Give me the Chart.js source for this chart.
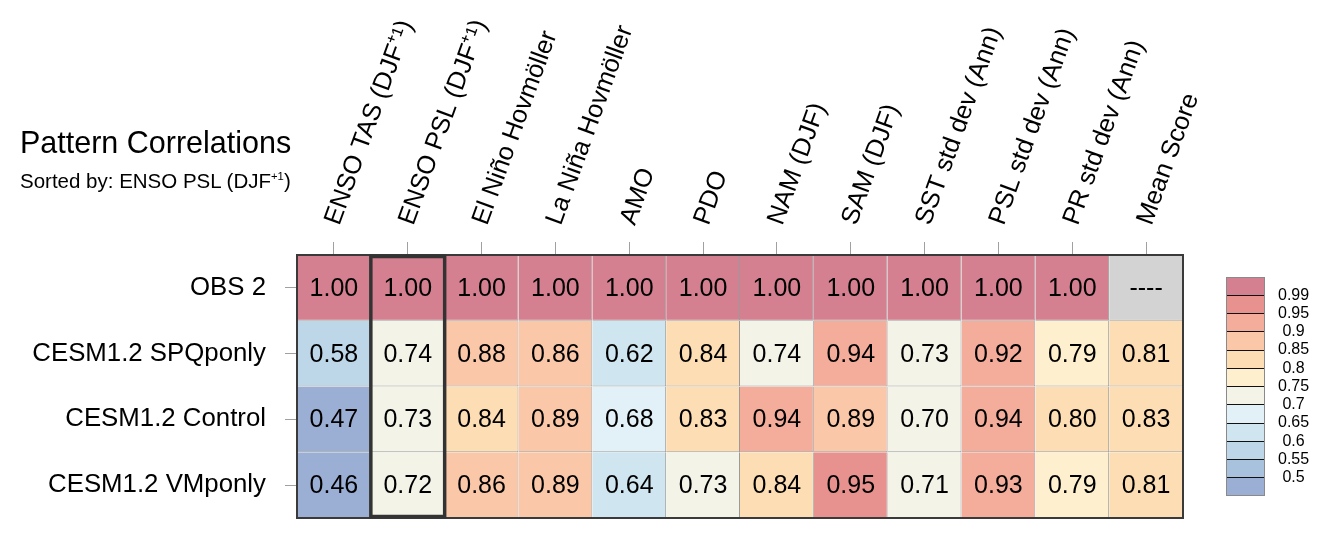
<!DOCTYPE html>
<html><head><meta charset="utf-8">
<script src="https://cdn.jsdelivr.net/npm/chart.js@4.4.1/dist/chart.umd.min.js"></script>
<style>
html,body{margin:0;padding:0;background:#fff;}
#wrap{position:relative;width:1329px;height:539px;overflow:hidden;font-family:"Liberation Sans",Arial,sans-serif;}
#main{position:absolute;left:0;top:0;}
#cb{position:absolute;left:1200px;top:260px;}
.t{position:absolute;left:20px;white-space:nowrap;color:#000;line-height:1;}
sup{font-size:0.55em;line-height:0;vertical-align:0.75em;}
</style></head><body>
<div id="wrap">
<canvas id="main" width="1329" height="539"></canvas>
<canvas id="cb" width="129" height="260"></canvas>
<div class="t" style="top:127px;font-size:30.5px;">Pattern Correlations</div>
<div class="t" style="top:170.5px;font-size:20.5px;">Sorted by: ENSO PSL (DJF<sup>+1</sup>)</div>
</div>
<script>
const columns = ["ENSO TAS (DJF\u207A\u00B9)", "ENSO PSL (DJF\u207A\u00B9)", "El Niño Hovmöller", "La Niña Hovmöller", "AMO", "PDO", "NAM (DJF)", "SAM (DJF)", "SST std dev (Ann)", "PSL std dev (Ann)", "PR std dev (Ann)", "Mean Score"];
const rows = ["OBS 2", "CESM1.2 SPQponly", "CESM1.2 Control", "CESM1.2 VMponly"];
const obs2     = [1.00, 1.00, 1.00, 1.00, 1.00, 1.00, 1.00, 1.00, 1.00, 1.00, 1.00, null];
const spqponly = [0.58, 0.74, 0.88, 0.86, 0.62, 0.84, 0.74, 0.94, 0.73, 0.92, 0.79, 0.81];
const control  = [0.47, 0.73, 0.84, 0.89, 0.68, 0.83, 0.94, 0.89, 0.70, 0.94, 0.80, 0.83];
const vmponly  = [0.46, 0.72, 0.86, 0.89, 0.64, 0.73, 0.84, 0.95, 0.71, 0.93, 0.79, 0.81];
const sortedBy = 1;
const cbBounds = [0.5, 0.55, 0.6, 0.65, 0.7, 0.75, 0.8, 0.85, 0.9, 0.95, 0.99];
const cbLabels = ["0.5", "0.55", "0.6", "0.65", "0.7", "0.75", "0.8", "0.85", "0.9", "0.95", "0.99"];
const cbColors = ["#9baed4", "#a8c2dd", "#bdd7e9", "#cfe6f0", "#e1f1f7", "#f3f3e8", "#fef0cf", "#fddeb4", "#fac8a8", "#f4ac9b", "#e8928f", "#d48090"];
const missingColor = "#d3d3d3";

const FONT = '"Liberation Sans", Arial, sans-serif';
Chart.defaults.font.family = FONT;
Chart.defaults.color = '#000';

function colorFor(v) {
  if (v == null) return missingColor;
  let k = 0;
  cbBounds.forEach(b => { if (v >= b - 1e-9) k++; });
  return cbColors[k];
}

const rowValues = [obs2, spqponly, control, vmponly];
const datasets = rowValues.map((vals, r) => ({
  label: rows[r],
  data: columns.map(() => [r, r + 1]),
  values: vals,
  backgroundColor: vals.map(colorFor),
  borderColor: '#9a9a9a',
  borderWidth: {top: 0, left: 0, right: 1, bottom: 1},
  borderSkipped: false,
  inflateAmount: 0,
  barPercentage: 1,
  categoryPercentage: 1,
  grouped: false
}));

const cellPlugin = {
  id: 'cells',
  afterDatasetsDraw(chart) {
    const ctx = chart.ctx;
    ctx.save();
    ctx.font = '25px ' + FONT;
    ctx.fillStyle = '#000';
    ctx.textAlign = 'center';
    ctx.textBaseline = 'middle';
    chart.data.datasets.forEach((ds, di) => {
      chart.getDatasetMeta(di).data.forEach((bar, i) => {
        const v = ds.values[i];
        const txt = v == null ? '----' : v.toFixed(2);
        ctx.fillText(txt, bar.x, (bar.y + bar.base) / 2 + 1);
      });
    });
    const a = chart.chartArea;
    ctx.strokeStyle = '#3a3a3a';
    ctx.lineWidth = 2;
    ctx.strokeRect(a.left, a.top, a.right - a.left, a.bottom - a.top);
    const b = chart.getDatasetMeta(0).data[sortedBy];
    const x0 = b.x - b.width / 2, x1 = b.x + b.width / 2;
    ctx.lineWidth = 3.5;
    ctx.strokeStyle = '#333';
    ctx.strokeRect(x0, a.top + 1.5, x1 - x0, a.bottom - a.top - 3);
    ctx.restore();
  }
};

new Chart(document.getElementById('main'), {
  type: 'bar',
  data: { labels: columns, datasets: datasets },
  options: {
    responsive: false,
    animation: false,
    layout: { padding: { left: 0, top: 0, right: 146, bottom: 21 } },
    scales: {
      x: {
        type: 'category', position: 'top', offset: true,
        grid: { display: true, drawOnChartArea: false, drawTicks: true, tickLength: 13, color: '#a0a0a0', offset: false },
        border: { display: false },
        ticks: { autoSkip: false, maxRotation: 70, minRotation: 70, padding: 18, color: '#000', font: { size: 25.5, lineHeight: 0.05 } },
        afterFit(s) { s.height = 255; s.paddingLeft = 0; s.paddingRight = 0; }
      },
      y: {
        type: 'linear', min: 0, max: 4, reverse: true, position: 'left',
        afterBuildTicks(s) { s.ticks = rows.map((_, i) => ({ value: i + 0.5 })); },
        grid: { drawOnChartArea: false, drawTicks: true, tickLength: 12, color: '#a0a0a0' },
        border: { display: false },
        ticks: { padding: 19, color: '#000', font: { size: 25.8 }, callback: (v, i) => rows[i] },
        afterFit(s) { s.width = 297; s.paddingTop = 0; s.paddingBottom = 0; }
      }
    },
    plugins: { legend: { display: false }, tooltip: { enabled: false } }
  },
  plugins: [cellPlugin]
});

const cbFrame = {
  id: 'cbframe',
  afterDraw(chart) {
    const a = chart.chartArea, ctx = chart.ctx;
    ctx.save();
    ctx.strokeStyle = '#8a8a8a';
    ctx.lineWidth = 1;
    ctx.strokeRect(a.left + 0.5, a.top + 0.5, a.right - a.left - 1, a.bottom - a.top - 1);
    ctx.restore();
  }
};

new Chart(document.getElementById('cb'), {
  type: 'bar',
  data: {
    labels: [''],
    datasets: cbColors.map(c => ({ data: [1], backgroundColor: c, borderWidth: 0, inflateAmount: 0, barPercentage: 1, categoryPercentage: 1 }))
  },
  options: {
    responsive: false,
    animation: false,
    layout: { padding: { left: 26, right: 0, top: 17, bottom: 24 } },
    scales: {
      x: { stacked: true, display: false },
      y: {
        stacked: true, min: 0, max: cbColors.length, position: 'right',
        afterBuildTicks(s) { s.ticks = cbLabels.map((_, i) => ({ value: i + 1 })); },
        ticks: { autoSkip: false, callback: (v, i) => cbLabels[i], crossAlign: 'center', padding: 13, color: '#000', font: { size: 16 } },
        grid: { drawTicks: false, color: '#111', lineWidth: 1, z: 1 },
        border: { display: false },
        afterFit(s) { s.width = 64; s.paddingTop = 0; s.paddingBottom = 0; }
      }
    },
    plugins: { legend: { display: false }, tooltip: { enabled: false } }
  },
  plugins: [cbFrame]
});
</script>
</body></html>
